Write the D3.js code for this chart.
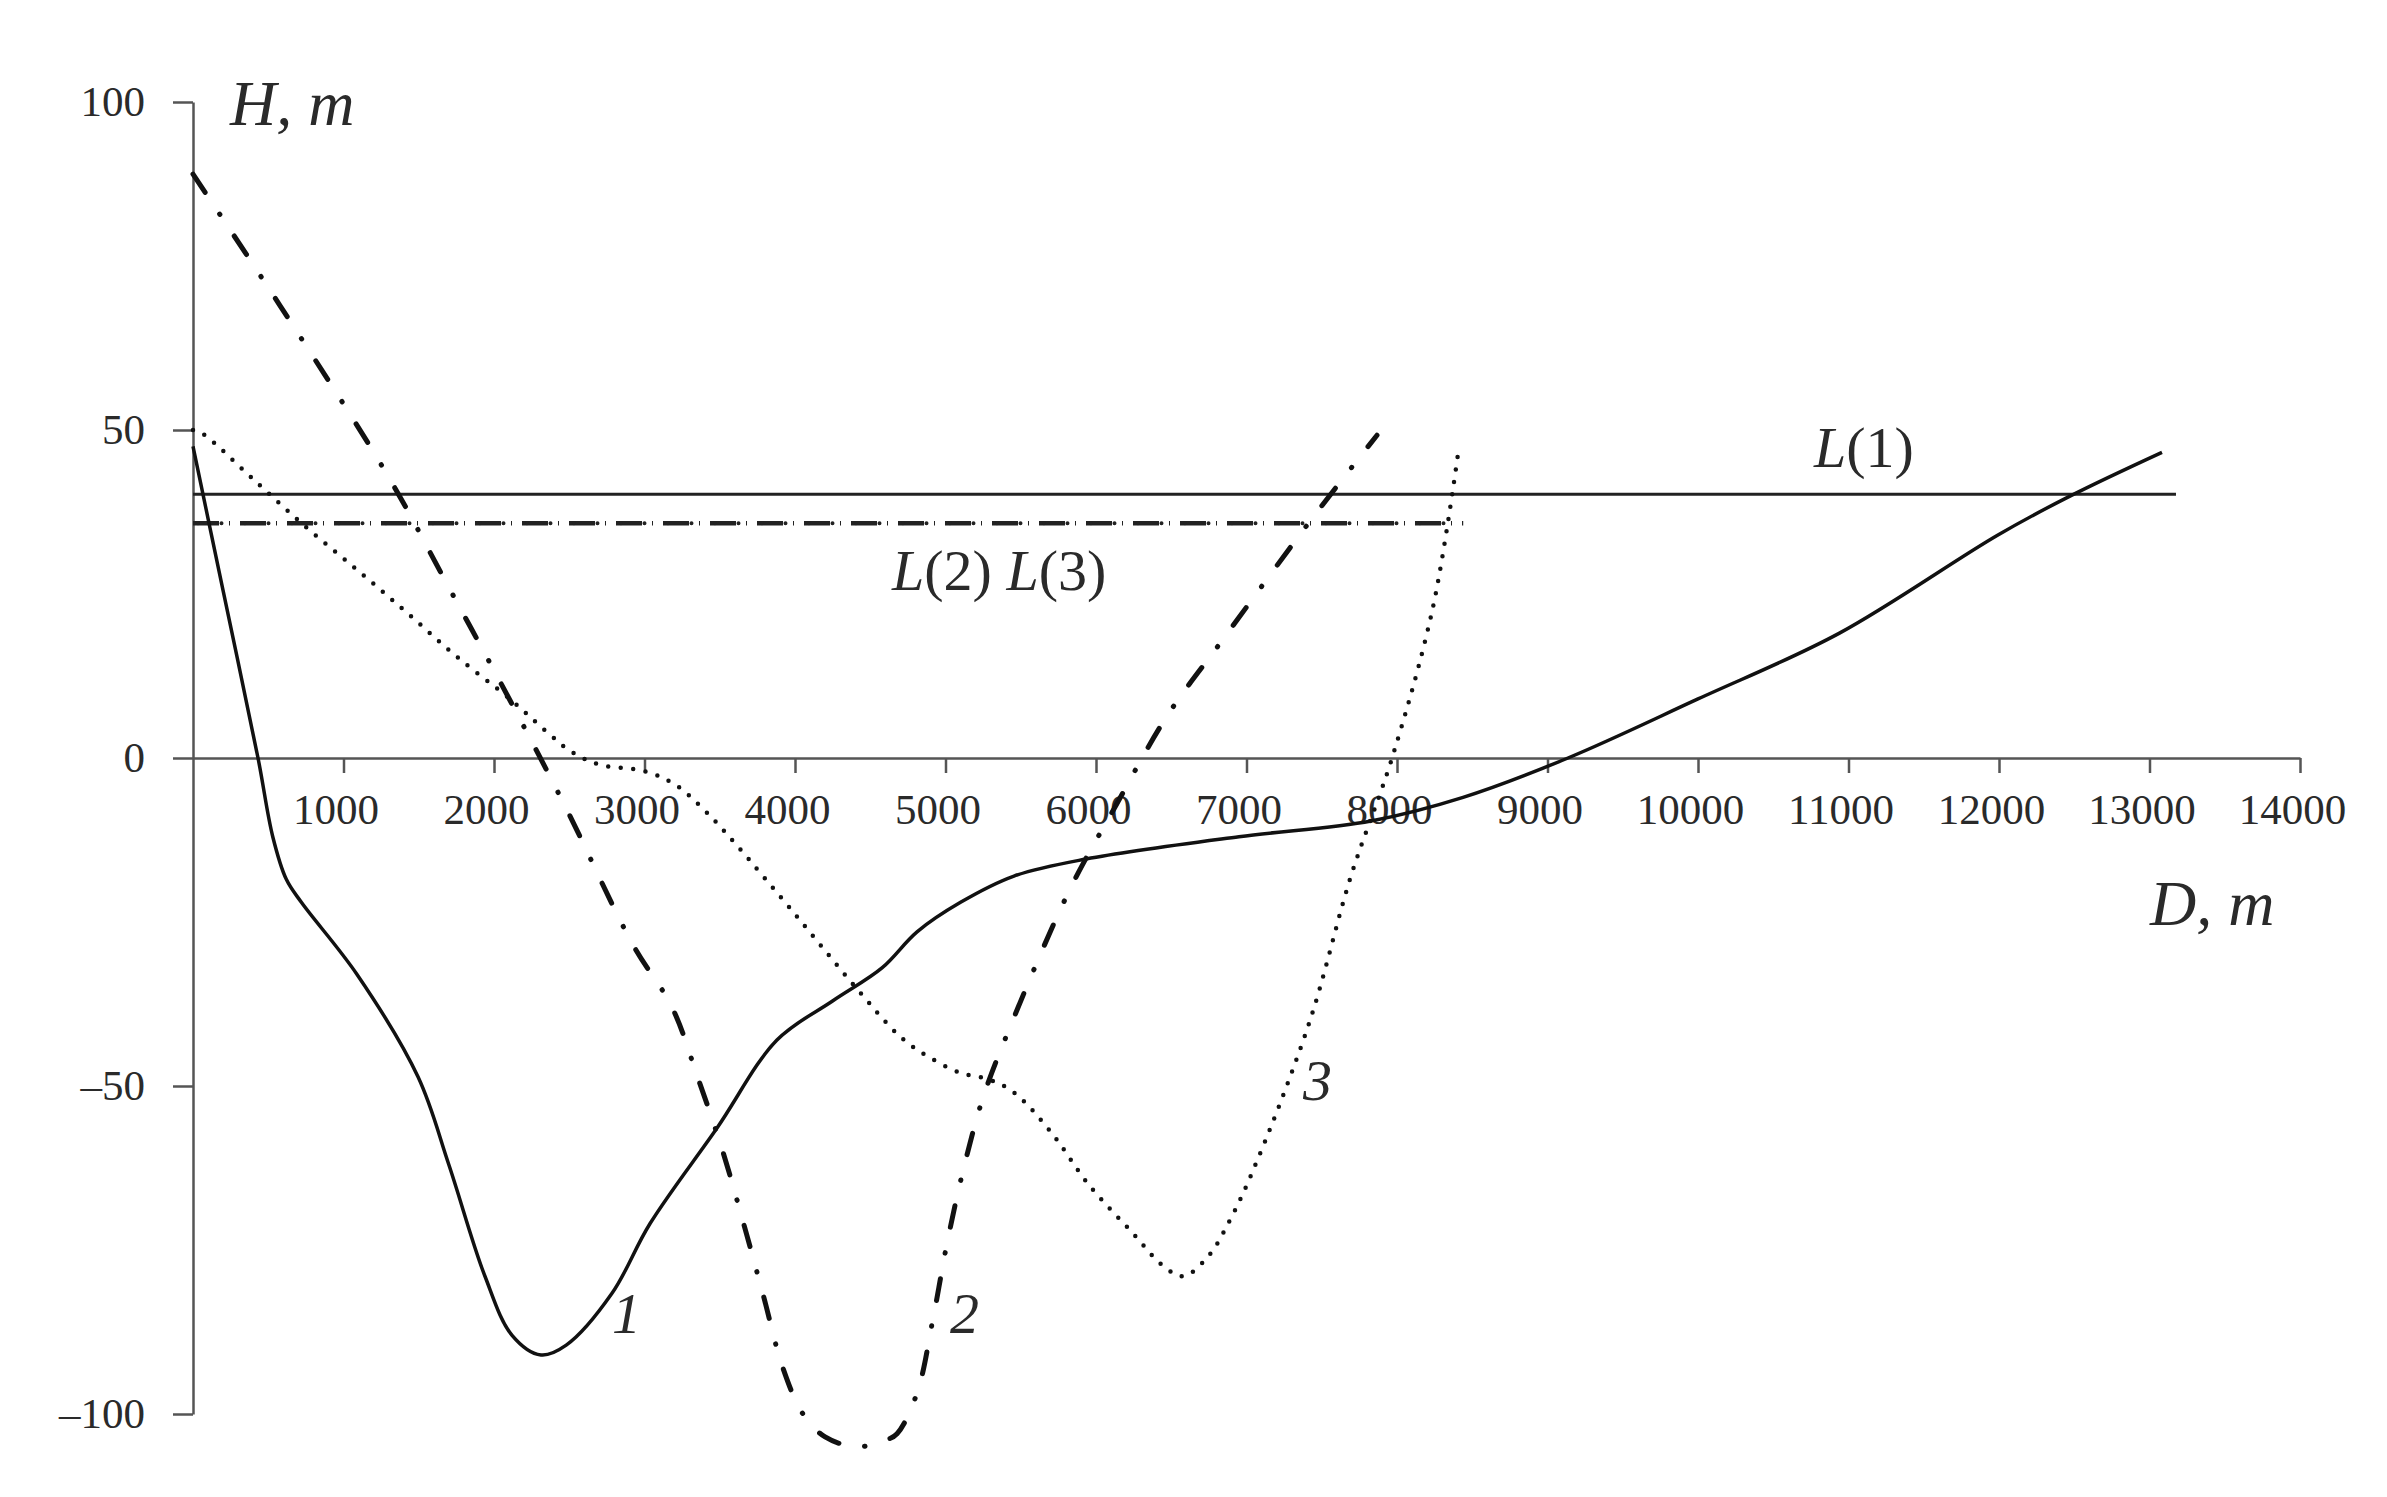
<!DOCTYPE html>
<html>
<head>
<meta charset="utf-8">
<script src="https://cdn.jsdelivr.net/npm/d3@7"></script>
<style>
body{margin:0;background:#fff}
text{font-family:"Liberation Serif","DejaVu Serif",serif;fill:#2a2a2a}
</style>
</head>
<body>
<script>
// depth profiles, D in m, H in m
var profile1=[[0,47.5],[200,25.5],[432,0],[530,-12],[620,-18.5],[720,-22],[1090,-33],[1495,-48.6],[1700,-62],[1940,-79],[2120,-88],[2312,-91],[2480,-89.5],[2784,-81.6],[3036,-71],[3482,-56.4],[3880,-43],[4252,-37],[4578,-32],[4811,-26.5],[5100,-22],[5455,-18],[5934,-15.4],[6950,-12],[7827,-9.6],[8439,-6],[9136,0],[10000,9],[10937,19],[11993,34],[12478,40],[13083,46.6]]
var profile2=[[0,89],[577,69],[1295,43],[1700,26],[2106,8.8],[2478,-7.6],[2924,-28.5],[3183,-38],[3355,-48.8],[3515,-59.6],[3654,-70.6],[3787,-81.7],[3920,-93],[4053,-100],[4200,-103.5],[4412,-105],[4600,-104],[4678,-103],[4811,-96.8],[4917,-85.5],[5010,-74],[5116,-63],[5249,-51.8],[5429,-41],[5827,-20],[6133,-7.2],[6472,6.4],[6844,18.1],[7422,36.1],[7867,49.2]]
var profile3=[[0,50],[60,49.5],[400,42.5],[751,35.2],[1100,28.5],[1429,22],[1750,15.5],[2106,9],[2350,4],[2512,1],[2700,-1],[3000,-2],[3200,-4],[3400,-8],[3601,-13],[4007,-24],[4405,-35],[4700,-42.5],[4884,-45.5],[5100,-48],[5289,-49],[5455,-51],[5700,-57],[5950,-65],[6239,-72.3],[6450,-77.5],[6580,-79],[6744,-76],[6900,-70],[7083,-60.7],[7422,-40],[7694,-18],[7967,0],[8239,23],[8405,46.3]]
// levels L(1), L(2)=L(3)
var levelL1=[[0,40.2],[13176,40.2]]
var levelL23=[[0,35.8],[8440,35.8]]
var xTicks=[1000,2000,3000,4000,5000,6000,7000,8000,9000,10000,11000,12000,13000,14000]
var yTicks=[100,50,0,-50,-100]
var yTickLabels=["100","50","0","\u201350","\u2013100"]

var screen={width:2387,height:1497}
var xScale=d3.scaleLinear().domain([0,14000]).range([193,2300])
var yScale=d3.scaleLinear().domain([-100,100]).range([1414,102])

var svg=d3.select("body").append("svg").attr("width",screen.width).attr("height",screen.height)

var yAxis=d3.axisLeft(yScale).tickValues(yTicks).tickSize(20).tickSizeOuter(0).tickPadding(28)
  .tickFormat(function(d,i){return yTickLabels[i]})
svg.append("g").classed("yAxis",true)
   .attr("transform","translate("+xScale(0)+",0)")
   .call(yAxis)
var xAxis=d3.axisBottom(xScale).tickValues(xTicks).tickSize(15).tickSizeOuter(0).tickPadding(20)
  .tickFormat(function(d){return d})
svg.append("g").classed("xAxis",true)
   .attr("transform","translate(0,"+yScale(0)+")")
   .call(xAxis)
svg.selectAll(".yAxis path,.yAxis line,.xAxis path,.xAxis line").attr("stroke","#555").attr("stroke-width",2.5)
svg.selectAll(".yAxis text,.xAxis text").style("font-size","43px").attr("fill","#333")
svg.selectAll(".xAxis text").attr("x",-8)

var line=d3.line().x(function(d){return xScale(d[0])}).y(function(d){return yScale(d[1])})
var smooth=d3.line().x(function(d){return xScale(d[0])}).y(function(d){return yScale(d[1])}).curve(d3.curveCatmullRom.alpha(0.5))

// levels
svg.append("path").attr("d",line(levelL1)).attr("fill","none").attr("stroke","#222").attr("stroke-width",3)
svg.append("path").attr("d",line(levelL23)).attr("fill","none").attr("stroke","#222").attr("stroke-width",4.5)
   .attr("stroke-dasharray","26,10,1,10").attr("stroke-linecap","butt")
svg.append("path").attr("d",line(levelL23)).attr("fill","none").attr("stroke","#222").attr("stroke-width",4)
   .attr("stroke-dasharray","0,23.5").attr("stroke-dashoffset",-5).attr("stroke-linecap","round")

// profiles
svg.append("path").attr("d",smooth(profile1)).attr("fill","none").attr("stroke","#111").attr("stroke-width",3.5)
svg.append("path").attr("d",smooth(profile2)).attr("fill","none").attr("stroke","#111").attr("stroke-width",5)
   .attr("stroke-dasharray","22,26,0.5,26").attr("stroke-linecap","round")
svg.append("path").attr("d",smooth(profile3)).attr("fill","none").attr("stroke","#111").attr("stroke-width",4.5)
   .attr("stroke-dasharray","0,12.5").attr("stroke-linecap","round")

// axis titles
svg.append("text").attr("x",230).attr("y",125).style("font-size","64px").style("font-style","italic").text("H, m")
svg.append("text").attr("x",2150).attr("y",925).style("font-size","64px").style("font-style","italic").text("D, m")

// level labels
var t1=svg.append("text").attr("x",1814).attr("y",467).style("font-size","58px")
t1.append("tspan").style("font-style","italic").text("L")
t1.append("tspan").text("(1)")
var t2=svg.append("text").attr("x",892).attr("y",590).style("font-size","58px")
t2.append("tspan").style("font-style","italic").text("L")
t2.append("tspan").text("(2) ")
t2.append("tspan").style("font-style","italic").text("L")
t2.append("tspan").text("(3)")

// curve numbers
svg.append("text").attr("x",612).attr("y",1333).style("font-size","58px").style("font-style","italic").text("1")
svg.append("text").attr("x",950).attr("y",1333).style("font-size","58px").style("font-style","italic").text("2")
svg.append("text").attr("x",1303).attr("y",1100).style("font-size","58px").style("font-style","italic").text("3")
</script>
</body>
</html>
